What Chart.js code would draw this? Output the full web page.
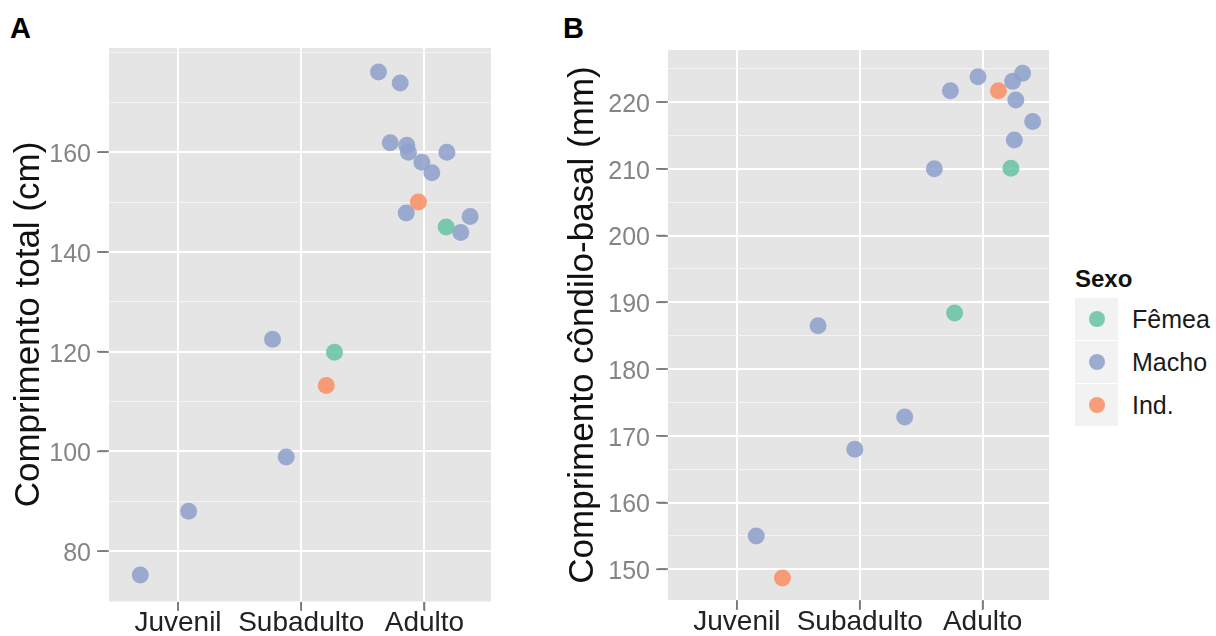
<!DOCTYPE html>
<html>
<head>
<meta charset="utf-8">
<script src="https://cdn.jsdelivr.net/npm/chart.js@4.4.1/dist/chart.umd.min.js"></script>
<style>
  html, body { margin:0; padding:0; background:#fff; width:1216px; height:636px; overflow:hidden;
    font-family:"Liberation Sans", Arial, sans-serif; }
  canvas { position:absolute; top:0; }
  #cA { left:0; }
  #cB { left:540px; }
  .tag { position:absolute; font-weight:bold; font-size:29px; line-height:29px; color:#000; }
  .ltitle { position:absolute; left:1075px; top:267px; font-weight:bold; font-size:24px; line-height:24px; color:#111; }
  .lkey { position:absolute; left:1075px; width:43px; height:42px; background:#f2f2f2; }
  .ldot { position:absolute; left:13.5px; top:13px; width:16px; height:16px; border-radius:50%; }
  .llab { position:absolute; left:1132px; height:42px; line-height:42px; font-size:25px; color:#1a1a1a; }
</style>
</head>
<body>
<div class="tag" style="left:10px;top:14px;">A</div>
<div class="tag" style="left:563px;top:14px;">B</div>
<canvas id="cA" width="520" height="636"></canvas>
<canvas id="cB" width="520" height="636"></canvas>
<div id="legend"></div>
<script>
// ---------- data ----------
const categories = ['Juvenil', 'Subadulto', 'Adulto'];
const seriesNames = ['Fêmea', 'Macho', 'Ind.'];
const legendTitle = 'Sexo';

// Panel A: Comprimento total (cm); x = jittered category position (1..3)
const femeaA_x = [2.270, 3.176];
const femeaA_y = [119.9, 145.0];
const machoA_x = [0.694, 1.086, 1.767, 1.878, 2.627, 2.803, 2.722, 2.857, 2.870, 2.979, 3.060, 3.182, 2.852, 3.295, 3.371];
const machoA_y = [75.2, 88.0, 122.5, 98.9, 176.1, 173.9, 161.9, 161.4, 160.0, 158.0, 155.9, 160.0, 147.8, 143.9, 147.1];
const indA_x = [2.203, 2.951];
const indA_y = [113.2, 150.0];
const yTicksA = [80, 100, 120, 140, 160];

// Panel B: Comprimento côndilo-basal (mm)
const femeaB_x = [2.772, 3.230];
const femeaB_y = [188.4, 210.1];
const machoB_x = [1.158, 1.661, 1.960, 2.366, 2.607, 2.738, 2.962, 3.244, 3.325, 3.270, 3.407, 3.258];
const machoB_y = [155.0, 186.5, 168.0, 172.8, 210.0, 221.7, 223.8, 223.1, 224.3, 220.3, 217.1, 214.3];
const indB_x = [1.371, 3.128];
const indB_y = [148.7, 221.7];
const yTicksB = [150, 160, 170, 180, 190, 200, 210, 220];

// ---------- styling ----------
const FONT = '"Liberation Sans", Arial, sans-serif';
const colors = { 'Fêmea': 'rgba(102,194,165,0.85)', 'Macho': 'rgba(141,160,203,0.85)', 'Ind.': 'rgba(252,141,98,0.85)' };

// gray panel plus small gray tick marks outside it, placed through the chart's scales
function makePanelBg(majors) {
  return {
    id: 'panelBg',
    beforeDraw(chart) {
      const a = chart.chartArea, ctx = chart.ctx;
      const sx = chart.scales.x, sy = chart.scales.y;
      ctx.save();
      ctx.fillStyle = '#e5e5e5';
      ctx.fillRect(a.left, a.top, a.right - a.left, a.bottom - a.top);
      ctx.strokeStyle = '#7a7a7a';
      ctx.lineWidth = 1.6;
      majors.forEach(v => {
        const y = sy.getPixelForValue(v);
        ctx.beginPath(); ctx.moveTo(a.left - 12, y); ctx.lineTo(a.left - 2, y); ctx.stroke();
      });
      categories.forEach((c, i) => {
        const x = sx.getPixelForValue(i + 1);
        ctx.beginPath(); ctx.moveTo(x, a.bottom + 1); ctx.lineTo(x, a.bottom + 10); ctx.stroke();
      });
      ctx.restore();
    }
  };
}

function pts(xs, ys) { return xs.map((x, i) => ({ x: x, y: ys[i] })); }

function ds(name, xs, ys) {
  return {
    label: name, data: pts(xs, ys),
    backgroundColor: colors[name], pointBackgroundColor: colors[name],
    borderWidth: 0, pointBorderWidth: 0, pointRadius: 8.5, pointHoverRadius: 8.5, showLine: false
  };
}

function makePanel(id, datasets, p) {
  const isMajor = v => p.majors.indexOf(Math.round(v * 1000) / 1000) >= 0;
  return new Chart(document.getElementById(id), {
    type: 'scatter',
    data: { datasets: datasets },
    plugins: [makePanelBg(p.majors)],
    options: {
      responsive: false, animation: false, devicePixelRatio: 1, events: [],
      layout: { padding: { top: p.top, right: p.right, left: 0, bottom: 0 } },
      plugins: { legend: { display: false }, tooltip: { enabled: false } },
      scales: {
        x: {
          type: 'linear', min: 0.44, max: 3.54,
          afterFit: s => { s.height = p.xh; },
          border: { display: false },
          grid: { color: '#ffffff', lineWidth: 2, tickColor: '#7a7a7a', tickWidth: 1.6, tickLength: 9, drawTicks: true },
          ticks: {
            stepSize: 1, includeBounds: false, autoSkip: false, maxRotation: 0, minRotation: 0, padding: -1,
            color: '#222222', font: { family: FONT, size: 28, lineHeight: 1 },
            callback: v => categories[Math.round(v) - 1] || ''
          }
        },
        y: {
          type: 'linear', min: p.ymin, max: p.ymax,
          afterFit: s => { s.width = p.yw; },
          border: { display: false },
          grid: {
            color: c => (c.tick && isMajor(c.tick.value)) ? '#ffffff' : '#f3f3f3',
            lineWidth: c => (c.tick && isMajor(c.tick.value)) ? 2 : 1,
            tickColor: c => (c.tick && isMajor(c.tick.value)) ? '#7a7a7a' : 'rgba(0,0,0,0)',
            tickWidth: 1.6, tickLength: 10, drawTicks: true
          },
          ticks: {
            stepSize: p.step, includeBounds: false, autoSkip: false, padding: 8, labelOffset: 3,
            color: '#858585', font: { family: FONT, size: 25 },
            callback: v => isMajor(v) ? String(v) : ''
          },
          title: {
            display: true, text: p.title, color: '#111111',
            font: { family: FONT, size: 35, lineHeight: 1.2 },
            padding: { top: p.tpad, bottom: 0 }
          }
        }
      }
    }
  });
}

makePanel('cA',
  [ds('Ind.', indA_x, indA_y), ds('Fêmea', femeaA_x, femeaA_y), ds('Macho', machoA_x, machoA_y)],
  { top: 48, right: 29, xh: 35, yw: 109, ymin: 70, ymax: 180.9, step: 10, majors: yTicksA,
    title: 'Comprimento total (cm)', tpad: 8 });

makePanel('cB',
  [ds('Fêmea', femeaB_x, femeaB_y), ds('Macho', machoB_x, machoB_y), ds('Ind.', indB_x, indB_y)],
  { top: 50, right: 11, xh: 36, yw: 128, ymin: 145.4, ymax: 227.8, step: 5, majors: yTicksB,
    title: 'Comprimento côndilo-basal (mm)', tpad: 22 });

// ---------- legend (HTML) ----------
const leg = document.getElementById('legend');
const t = document.createElement('div');
t.className = 'ltitle'; t.textContent = legendTitle; leg.appendChild(t);
seriesNames.forEach((name, i) => {
  const top = 298 + i * 43;
  const key = document.createElement('div');
  key.className = 'lkey'; key.style.top = top + 'px';
  const dot = document.createElement('div');
  dot.className = 'ldot'; dot.style.background = colors[name];
  key.appendChild(dot); leg.appendChild(key);
  const lab = document.createElement('div');
  lab.className = 'llab'; lab.style.top = top + 'px'; lab.textContent = name;
  leg.appendChild(lab);
});
</script>
</body>
</html>
